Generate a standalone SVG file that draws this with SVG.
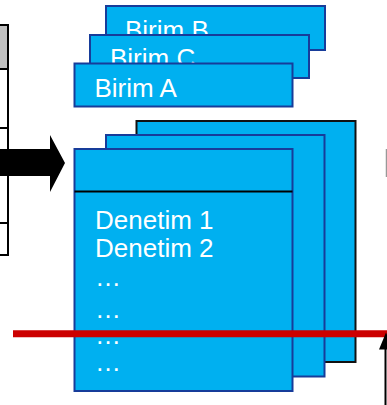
<svg xmlns="http://www.w3.org/2000/svg" width="387" height="405" viewBox="0 0 387 405">
<style>
.box{fill:#00B0F0;stroke:#173C9A;stroke-width:2}
.boxk{fill:#00B0F0;stroke:#111;stroke-width:2}
.t{font-family:"Liberation Sans",Arial,sans-serif;fill:#fff;font-size:26px}
.tl{stroke:#000;stroke-width:2;fill:none}
</style>
<g id="table">
<rect x="0" y="25" width="8" height="44" fill="#C0C0C0"/>
<path class="tl" d="M0 25H8V255H0M0 69H8M0 128H8M0 175H8M0 223H8"/>
</g>
<g id="birimB">
<rect class="box" x="106" y="6" width="219" height="44"/>
<text class="t" x="125" y="39">Birim B</text>
</g>
<g id="birimC">
<rect class="box" x="90" y="35" width="219" height="43"/>
<text class="t" x="110" y="67">Birim C</text>
</g>
<g id="birimA">
<rect class="box" x="74.5" y="63.5" width="218" height="43"/>
<text class="t" x="94.5" y="96.5">Birim A</text>
</g>
<g id="back">
<rect class="boxk" x="136.5" y="121" width="219" height="241"/>
</g>
<g id="middle">
<rect class="box" x="106" y="135" width="218.5" height="241.5"/>
</g>
<g id="front">
<rect class="box" x="74.5" y="149" width="218" height="242"/>
<line x1="74.5" y1="191.5" x2="292.5" y2="191.5" stroke="#000" stroke-width="2"/>
<text class="t" x="95" y="229.3" font-size="25.5">Denetim 1</text>
<text class="t" x="95" y="256.7" font-size="25.5">Denetim 2</text>
<text class="t" x="95" y="286">…</text>
<text class="t" x="95" y="317.5">…</text>
<text class="t" x="95" y="343.5">…</text>
<text class="t" x="95" y="371">…</text>
</g>
<g id="connectors">
<polygon points="0,149 50,149 50,135 65,163 50,192 50,176 0,176" fill="#000"/>
<line x1="13" y1="333.8" x2="387" y2="333.8" stroke="#CC0000" stroke-width="7"/>
<line x1="385.5" y1="347" x2="385.5" y2="405" stroke="#000" stroke-width="2"/>
<polygon points="386,332.5 379,349.5 393,349.5" fill="#000"/>
<line x1="386.5" y1="149" x2="386.5" y2="177" stroke="#999" stroke-width="1.5"/>
</g>
</svg>
